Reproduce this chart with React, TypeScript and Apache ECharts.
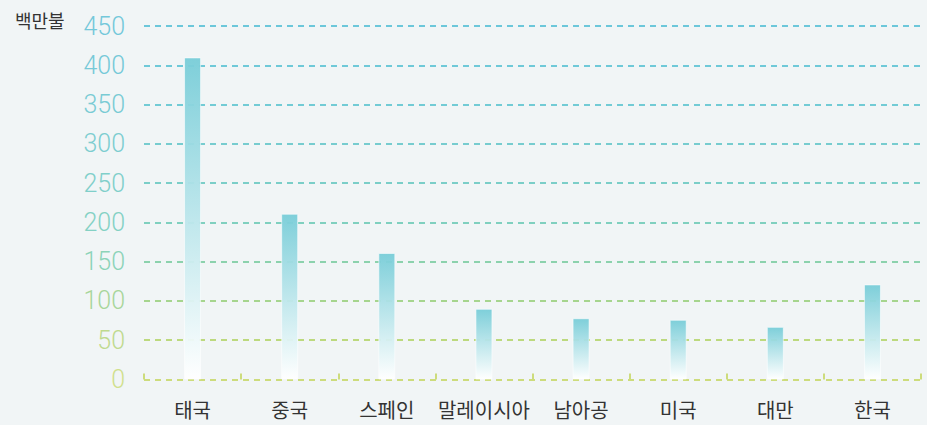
import React, { useEffect, useRef } from "react";
import * as echarts from "echarts";

const categories = ["태국", "중국", "스페인", "말레이시아", "남아공", "미국", "대만", "한국"];
const values = [410, 211, 161, 90, 78, 76, 67, 121];
const unitLabel = "백만불";
const gridColors = [
  "#cddc7c", // 0
  "#bcd97e", // 50
  "#a6d58e", // 100
  "#8cd2ad", // 150
  "#80d0bf", // 200
  "#7bcec8", // 250
  "#77cccf", // 300
  "#72cbd5", // 350
  "#6fc9d8", // 400
  "#6cc7da", // 450
];
const labelColors = [
  "#d0e08c",
  "#bfda8e",
  "#a8d69a",
  "#8cd3b8",
  "#84d1c4",
  "#80cfca",
  "#7dcdd0",
  "#79cbd4",
  "#76c9d8",
  "#74c8da",
];

export default function App() {
  const ref = useRef<HTMLDivElement>(null);
  useEffect(() => {
    const chart = echarts.init(ref.current!, undefined, { renderer: "svg" });
    chart.setOption({
      animation: false,
      backgroundColor: "#f1f5f6",
      grid: { left: 144, right: 6, top: 26, bottom: 45.5 },
      graphic: [
        {
          type: "text",
          left: 15,
          top: 11,
          style: {
            text: unitLabel,
            fill: "#333333",
            font: '18px "Noto Sans CJK KR"',
          },
        },
      ],
      xAxis: {
        type: "category",
        data: categories,
        axisLine: { show: false },
        axisTick: {
          show: true,
          inside: true,
          length: 6,
          lineStyle: { color: "#cddc7c", width: 2 },
        },
        axisLabel: {
          color: "#333333",
          fontSize: 20,
          fontFamily: '"Noto Sans CJK KR"',
          margin: 20,
          interval: 0,
        },
      },
      yAxis: {
        type: "value",
        min: 0,
        max: 450,
        interval: 50,
        axisLine: { show: false },
        axisTick: { show: false },
        axisLabel: {
          fontSize: 25,
          fontFamily: "Roboto",
          fontWeight: 300,
          margin: 19,
          color: (val: number) => labelColors[Math.round(val / 50)],
        },
        splitLine: {
          show: true,
          lineStyle: { color: gridColors, width: 2, type: [6, 5] },
        },
      },
      series: [
        {
          type: "bar",
          data: values,
          barWidth: 17,
          itemStyle: {
            opacity: 0.95,
            borderColor: "rgba(255,255,255,0.6)",
            borderWidth: 1,
            color: new echarts.graphic.LinearGradient(0, 0, 0, 1, [
              { offset: 0, color: "#78cdd8" },
              { offset: 1, color: "#ffffff" },
            ]),
          },
        },
      ],
    });
    return () => chart.dispose();
  }, []);
  return <div ref={ref} style={{ width: 927, height: 425, position: "absolute", left: 0, top: 0 }} />;
}
